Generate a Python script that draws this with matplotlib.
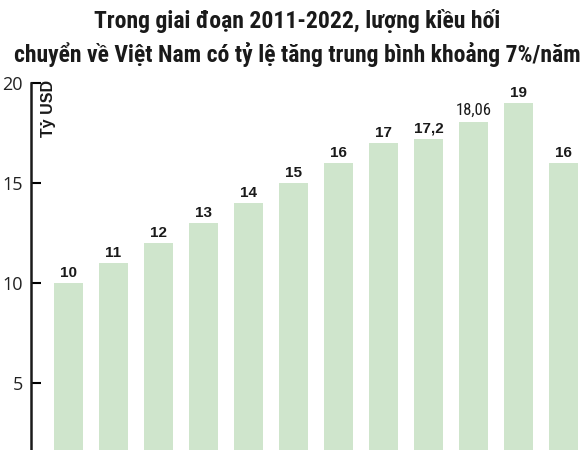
import matplotlib.pyplot as plt

# Data
years = ['2011', '2012', '2013', '2014', '2015', '2016',
         '2017', '2018', '2019', '2020', '2021', '2022']
values = [10, 11, 12, 13, 14, 15, 16, 17, 17.2, 18.06, 19, 16]
value_labels = ['10', '11', '12', '13', '14', '15', '16', '17', '17,2', '18,06', '19', '16']
y_ticks = [5, 10, 15, 20]

title_lines = ['Trong giai đoạn 2011-2022, lượng kiều hối',
               'chuyển về Việt Nam có tỷ lệ tăng trung bình khoảng 7%/năm']

cond = ['Roboto Condensed', 'Roboto', 'DejaVu Sans']
arial = ['Liberation Sans', 'DejaVu Sans']

fig = plt.figure(figsize=(5.87, 4.5), dpi=100)
ax = fig.add_axes([31 / 587, 0, 556 / 587, 367 / 450])

x = list(range(len(years)))
bars = ax.bar(x, values, width=0.644, color='#cfe5cc')

for xi, v, lab in zip(x, values, value_labels):
    if len(lab) > 4:
        # the long label is set narrower in the reference
        fam, fw, fs = cond, 'normal', 12
    else:
        fam, fw, fs = arial, 'bold', 11
    ax.annotate(lab, (xi, v), xytext=(0, 2.5), textcoords='offset points',
                ha='center', va='bottom', fontsize=fs, fontweight=fw,
                family=fam, color='#1a1a1a', annotation_clip=False)

ax.set_xlim(-0.833, 11.52)
ax.set_ylim(1.65, 20)
ax.set_yticks(y_ticks)
ax.set_yticklabels([str(t) for t in y_ticks], fontsize=13, color='#222222',
                   family=['Open Sans', 'DejaVu Sans'])
ax.tick_params(axis='y', direction='in', length=7, width=1.5, pad=6)
ax.set_xticks([])

for s in ['top', 'right', 'bottom']:
    ax.spines[s].set_visible(False)
ax.spines['left'].set_linewidth(1.8)
ax.spines['left'].set_color('#1a1a1a')

fig.text(49 / 587, 1 - 80 / 450, 'Tỷ USD', rotation=90, ha='center', va='top',
         fontsize=11.5, fontweight='bold', family=arial, color='#1a1a1a')

for i, line in enumerate(title_lines):
    fig.text(297 / 587, 1 - (28 + 34 * i) / 450, line, ha='center', va='baseline',
             fontsize=17, fontweight='bold', family=cond, color='#1a1a1a')

fig.savefig('out.png', dpi=100)
